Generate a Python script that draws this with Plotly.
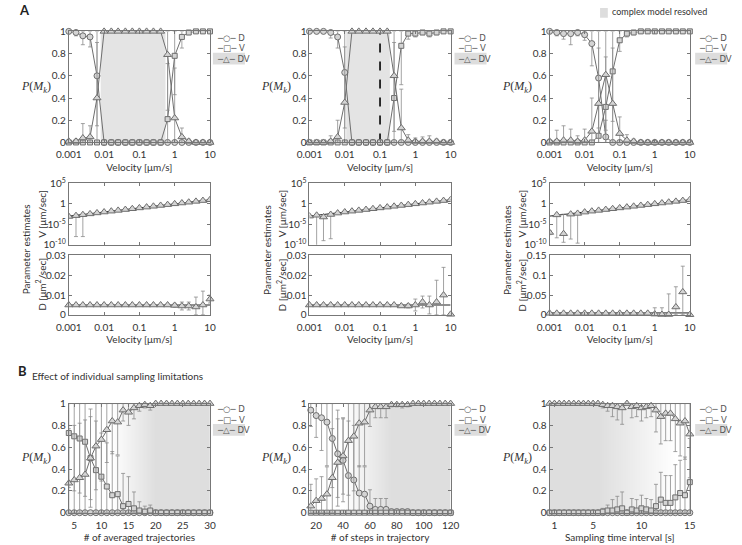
import numpy as np
import plotly.graph_objects as go

W, H = 742, 545

# ---------------- Panel A data (velocity sweep) ----------------
velocity = [0.001, 0.0016, 0.0025, 0.004, 0.0063, 0.01, 0.016, 0.025, 0.04, 0.063,
            0.1, 0.16, 0.25, 0.4, 0.63, 1.0, 1.6, 2.5, 4.0, 6.3, 10.0]
vel_ticks = [0.001, 0.01, 0.1, 1, 10]
vel_ticktext = ["0.001", "0.01", "0.1", "1", "10"]

# P(M_k) posterior probabilities
A1_D = [1, 0.99, 0.96, 0.95, 0.6, 0, 0, 0, 0, 0, 0, 0, 0, 0, 0, 0, 0, 0, 0, 0, 0]
A1_V = [0, 0, 0, 0, 0, 0, 0, 0, 0, 0, 0, 0, 0, 0, 0.21, 0.78, 0.95, 0.99, 1, 1, 1]
A1_DV = [0.01, 0.01, 0.04, 0.05, 0.4, 1, 1, 1, 1, 1, 1, 1, 1, 1, 0.79, 0.22, 0.05, 0.01, 0, 0, 0]
A1_D_sd = [0, 0.03, 0.08, 0.09, 0.45, 0, 0, 0, 0, 0, 0, 0, 0, 0, 0, 0, 0, 0, 0, 0, 0]
A1_V_sd = [0, 0, 0, 0, 0, 0, 0, 0, 0, 0, 0, 0, 0, 0, 0.5, 0.35, 0.1, 0.02, 0, 0, 0]
A1_DV_sd = [0, 0.02, 0.13, 0.1, 0.5, 0, 0, 0, 0, 0, 0, 0, 0, 0, 0.5, 0.45, 0.08, 0.02, 0, 0, 0]

A2_D = [1, 1, 1, 0.99, 0.95, 0.63, 0, 0, 0, 0, 0, 0, 0, 0, 0, 0, 0, 0, 0, 0, 0]
A2_V = [0, 0, 0, 0, 0, 0, 0, 0, 0, 0, 0, 0, 0.4, 0.87, 0.98, 0.98, 0.99, 0.98, 0.99, 1, 1]
A2_DV = [0, 0, 0, 0.01, 0.05, 0.36, 1, 1, 1, 1, 1, 1, 0.6, 0.13, 0.02, 0.01, 0.01, 0.01, 0.01, 0, 0]
A2_D_sd = [0, 0, 0, 0.05, 0.1, 0.5, 0, 0, 0, 0, 0, 0, 0, 0, 0, 0, 0, 0, 0, 0, 0]
A2_V_sd = [0, 0, 0, 0, 0, 0, 0, 0, 0, 0, 0, 0, 0.5, 0.35, 0.05, 0.03, 0.02, 0.03, 0.02, 0, 0]
A2_DV_sd = [0, 0, 0, 0.05, 0.15, 0.5, 0, 0, 0, 0, 0, 0, 0.5, 0.35, 0.05, 0.03, 0.04, 0.05, 0.02, 0, 0]

A3_D = [1, 0.99, 0.98, 0.98, 0.99, 0.97, 0.89, 0.58, 0.05, 0, 0, 0, 0, 0, 0, 0, 0, 0, 0, 0, 0]
A3_V = [0, 0, 0, 0, 0, 0, 0, 0.06, 0.32, 0.64, 0.92, 0.98, 0.99, 1, 1, 1, 1, 1, 1, 1, 1]
A3_DV = [0.01, 0.01, 0.02, 0.02, 0.01, 0.02, 0.1, 0.35, 0.61, 0.35, 0.08, 0.02, 0.01, 0, 0, 0, 0, 0, 0, 0, 0]
A3_D_sd = [0, 0.03, 0.05, 0.1, 0.03, 0.05, 0.2, 0.45, 0.15, 0, 0, 0, 0, 0, 0, 0, 0, 0, 0, 0, 0]
A3_V_sd = [0, 0, 0, 0, 0, 0, 0, 0.3, 0.45, 0.45, 0.1, 0.03, 0.02, 0, 0, 0, 0, 0, 0, 0, 0]
A3_DV_sd = [0, 0.1, 0.13, 0.1, 0.05, 0.1, 0.3, 0.5, 0.5, 0.5, 0.15, 0.05, 0.02, 0, 0, 0, 0, 0, 0, 0, 0]

# shaded "complex model resolved" velocity ranges (None = no shading)
A_shade = [(0.008, 0.55), (0.011, 0.19), None]
A2_dashed_velocity = 0.1

# Parameter estimates: V (log) and D
A1_Vest = [0.0008, 0.0013, 0.0022, 0.0035, 0.006, 0.01, 0.016, 0.025, 0.04, 0.063,
           0.1, 0.16, 0.25, 0.4, 0.63, 1.0, 1.6, 2.5, 4.0, 6.3, 10.0]
A1_Vlo = [None, 1e-8, 1e-8] + [None] * 18
A1_Vhi = [None] * 21
A2_Vest = [0.001, 0.0016, 0.0006, 0.0025, 0.0055, 0.01, 0.016, 0.025, 0.04, 0.063,
           0.1, 0.16, 0.25, 0.4, 0.63, 1.0, 1.6, 2.5, 4.0, 6.3, 10.0]
A2_Vlo = [None, 1e-11, 1e-9, 3e-9] + [None] * 17
A2_Vhi = [None] * 21
A3_Vest = [1e-7, 0.002, 5e-8, 0.003, 0.0045, 0.0095, 0.016, 0.025, 0.04, 0.063,
           0.1, 0.16, 0.25, 0.4, 0.63, 1.0, 1.6, 2.5, 4.0, 6.3, 10.0]
A3_Vlo = [3e-8, 5e-9, 4e-10, 2.5e-9, 2.5e-10] + [None] * 16
A3_Vhi = [3e-7, None, 3e-3] + [None] * 18

D_true = 0.005
A1_Dest = [0.005] * 15 + [0.0048, 0.0045, 0.0045, 0.004, 0.005, 0.008]
A1_Dsd = [0] * 14 + [0.0005, 0.001, 0.002, 0.002, 0.005, 0.007, 0.002]
A2_Dest = [0.005] * 13 + [0.0045, 0.0045, 0.005, 0.0065, 0.005, 0.0065, 0.010, 0.0003]
A2_Dsd = [0] * 13 + [0.0005, 0.001, 0.003, 0.003, 0.0045, 0.011, 0.014, 0]
A3_Dest = [0.004] * 15 + [0.002, 0.001, 0.001, 0.02, 0.058, 0.0005]
A3_Dsd = [0] * 15 + [0.016, 0.017, 0.052, 0.051, 0.065, 0]

# ---------------- Panel B data (sampling limitations) ----------------
B1_x = list(range(4, 31))
B1_D = [0] * 27
B1_V = [0.73, 0.70, 0.68, 0.65, 0.50, 0.39, 0.33, 0.24, 0.16, 0.17, 0.06, 0.08, 0.04, 0.02, 0.01, 0.02] + [0] * 11
B1_DV = [0.27, 0.30, 0.32, 0.35, 0.50, 0.61, 0.67, 0.76, 0.84, 0.83, 0.94, 0.92, 0.96, 0.98, 0.99, 0.98] + [1] * 11
B1_D_sd = [0] * 27
B1_V_sd = [0.5, 0.5, 0.5, 0.5, 0.45, 0.45, 0.4, 0.4, 0.4, 0.35, 0.3, 0.25, 0.15, 0.08, 0.05, 0.05] + [0] * 11
B1_DV_sd = [0.5, 0.5, 0.5, 0.5, 0.38, 0.4, 0.38, 0.3, 0.3, 0.3, 0.1, 0.12, 0.1, 0.05, 0.03, 0.04] + [0] * 11
B1_grad = ([4, 12, 20, 30], [0, 0, 1, 1])

B2_x = list(range(16, 121, 4))
B2_D = [0.94, 0.89, 0.87, 0.83, 0.68, 0.54, 0.48, 0.34, 0.30, 0.18, 0.17, 0.06, 0.03, 0.03,
        0.03, 0.01, 0.01, 0.01, 0.01] + [0] * 8
B2_V = [0] * 27
B2_DV = [0.06, 0.11, 0.13, 0.17, 0.32, 0.46, 0.52, 0.66, 0.70, 0.82, 0.83, 0.94, 0.97, 0.97,
         0.97, 0.99, 0.99, 0.99, 0.99] + [1] * 8
B2_D_sd = [0.15, 0.2, 0.3, 0.4, 0.45, 0.4, 0.38, 0.5, 0.5, 0.25, 0.25, 0.15, 0.1, 0.1,
           0.1, 0.02, 0.02, 0.02, 0.02] + [0] * 8
B2_V_sd = [0] * 27
B2_DV_sd = [0.2, 0.2, 0.2, 0.25, 0.45, 0.4, 0.35, 0.5, 0.5, 0.4, 0.4, 0.15, 0.1, 0.1,
            0.1, 0.02, 0.02, 0.03, 0.02] + [0] * 8
B2_grad = ([15, 40, 76, 120], [0, 0, 1, 1])

B3_x = [0.5, 1, 1.5, 2, 2.5, 3, 3.5, 4, 4.5, 5, 5.5, 6, 6.5, 7, 7.5, 8, 8.5, 9, 9.5, 10,
        10.5, 11, 11.5, 12, 12.5, 13, 13.5, 14, 14.5, 15]
B3_D = [0] * 30
B3_V = [0] * 11 + [0.01, 0.02, 0.02, 0.03, 0.04, 0.0, 0.03, 0.02, 0.04, 0.03, 0.02, 0.06,
                   0.12, 0.09, 0.09, 0.14, 0.18, 0.16, 0.28]
B3_DV = [1] * 11 + [0.99, 0.98, 0.98, 0.97, 0.96, 1.0, 0.97, 0.98, 0.96, 0.97, 0.98, 0.94,
                    0.88, 0.91, 0.91, 0.86, 0.82, 0.84, 0.72]
B3_D_sd = [0] * 30
B3_V_sd = [0] * 11 + [0.03, 0.05, 0.1, 0.12, 0.15, 0, 0.1, 0.1, 0.12, 0.1, 0.1, 0.2,
                      0.25, 0.25, 0.25, 0.3, 0.3, 0.35, 0.4]
B3_DV_sd = B3_V_sd
B3_grad = ([0.5, 5.5, 13.5, 15], [1, 1, 0, 0])

# ---------------- styling ----------------
FONT = "Lato"
TICKFONT = dict(family=FONT, size=10, color="#333333")
LINEC = "#6e6e6e"
MKFILL = "#d4d4d4"
ERRC = "#8c8c8c"
SHADE = "#e4e4e4"
SYMBOLS = {"D": ("circle", 6), "V": ("square", 5), "DV": ("triangle-up", 7)}

cols_px = [(57.5, 203), (305.5, 451), (553, 697.5)]
col_shift = [0, 248, 495.5]
rows_px = {"top": (24, 138), "V": (180, 243), "D": (254, 315), "bot": (406, 518)}


def xdom(c):
    return [c[0] / W, c[1] / W]


def ydom(r):
    return [1 - r[1] / H, 1 - r[0] / H]


def names(i):
    if i == 1:
        return "xaxis", "yaxis", "x", "y"
    return f"xaxis{i}", f"yaxis{i}", f"x{i}", f"y{i}"


axis_base = dict(showline=True, linecolor="#777777", linewidth=1, mirror="ticks",
                 ticks="inside", ticklen=3, tickwidth=1, tickcolor="#777777",
                 showgrid=False, zeroline=False, tickfont=TICKFONT)

fig = go.Figure()
layout = {}
annotations = []
shapes = []


def set_axes(i, col, row, xa, ya):
    xn, yn, xr, yr = names(i)
    xd = dict(axis_base, domain=xdom(cols_px[col]), anchor=yr, ticklabelstandoff=3)
    xd.update(xa)
    yd = dict(axis_base, domain=ydom(rows_px[row]), anchor=xr)
    yd.update(ya)
    layout[xn] = xd
    layout[yn] = yd
    return xr, yr


def p_err(y, sd):
    y = np.array(y, float)
    sd = np.array(sd, float)
    plus = np.minimum(sd, 1 - y)
    minus = np.minimum(sd, y)
    return plus.tolist(), minus.tolist()


def add_p_series(xr, yr, x, series):
    for key, y, sd in series:
        sym, size = SYMBOLS[key]
        plus, minus = p_err(y, sd)
        fig.add_trace(go.Scatter(
            x=x, y=y, xaxis=xr, yaxis=yr, mode="lines+markers", name=key,
            line=dict(color=LINEC, width=1),
            marker=dict(symbol=sym, size=size, color=MKFILL, line=dict(color=LINEC, width=1)),
            error_y=dict(type="data", symmetric=False, array=plus, arrayminus=minus,
                         color=ERRC, thickness=0.8, width=2),
            cliponaxis=False, showlegend=False, hoverinfo="skip"))


def add_legend(xpx, ypx):
    labels = [("─○─ D", 0), ("─□─ V", 10.5), ("─△─ DV", 21)]
    shapes.append(dict(type="rect", xref="paper", yref="paper", layer="below",
                       x0=(xpx - 2) / W, x1=(xpx + 31) / W,
                       y0=1 - (ypx + 21 + 6) / H, y1=1 - (ypx + 21 - 6) / H,
                       fillcolor="#dddddd", line=dict(width=0)))
    for t, dy in labels:
        annotations.append(dict(text=t, xref="paper", yref="paper", x=xpx / W, y=1 - (ypx + dy) / H,
                                xanchor="left", yanchor="middle", showarrow=False,
                                font=dict(family="DejaVu Sans", size=8.5, color="#555555")))


def pmk_label(xpx_right, ypx):
    annotations.append(dict(text="<i>P</i>(<i>M</i><sub><i>k</i></sub>)", xref="paper", yref="paper",
                            x=xpx_right / W, y=1 - ypx / H, xanchor="right", yanchor="middle",
                            showarrow=False, font=dict(family="Liberation Serif", size=12, color="#333333")))


def rot_label(text, xpx, ypx):
    annotations.append(dict(text=text, xref="paper", yref="paper", x=xpx / W, y=1 - ypx / H,
                            textangle=-90, showarrow=False, xanchor="center", yanchor="middle",
                            font=dict(family=FONT, size=10, color="#333333")))


# ---------------- top row: P(M_k) vs velocity ----------------
A_P = [
    (A1_D, A1_V, A1_DV, A1_D_sd, A1_V_sd, A1_DV_sd),
    (A2_D, A2_V, A2_DV, A2_D_sd, A2_V_sd, A2_DV_sd),
    (A3_D, A3_V, A3_DV, A3_D_sd, A3_V_sd, A3_DV_sd),
]
logx = dict(type="log", range=[-3, 1], tickvals=vel_ticks, ticktext=vel_ticktext)
py = dict(range=[0, 1], tickvals=[0, 0.2, 0.4, 0.6, 0.8, 1])
xtitle_vel = dict(text="Velocity [μm/s]", font=dict(family=FONT, size=10, color="#333333"), standoff=4)

for c in range(3):
    xr, yr = set_axes(1 + c, c, "top", dict(logx, title=xtitle_vel), py)
    if A_shade[c] is not None:
        a, b = A_shade[c]
        fig.add_trace(go.Scatter(x=[a, a, b, b, a], y=[0, 1, 1, 0, 0], xaxis=xr, yaxis=yr,
                                 mode="lines", fill="toself", fillcolor=SHADE,
                                 line=dict(width=0), showlegend=False, hoverinfo="skip"))
    if c == 1:
        fig.add_trace(go.Scatter(x=[A2_dashed_velocity, A2_dashed_velocity], y=[0, 1], xaxis=xr, yaxis=yr,
                                 mode="lines", line=dict(color="black", width=1.6, dash="dash"),
                                 showlegend=False, hoverinfo="skip"))
    D, V, DV, Dsd, Vsd, DVsd = A_P[c]
    add_p_series(xr, yr, velocity, [("D", D, Dsd), ("V", V, Vsd), ("DV", DV, DVsd)])

# ---------------- middle rows: parameter estimates ----------------
A_V = [(A1_Vest, A1_Vlo, A1_Vhi), (A2_Vest, A2_Vlo, A2_Vhi), (A3_Vest, A3_Vlo, A3_Vhi)]
A_Dest = [(A1_Dest, A1_Dsd), (A2_Dest, A2_Dsd), (A3_Dest, A3_Dsd)]
D_ranges = [([0, 0.03], [0, 0.01, 0.02, 0.03], ["0", "0.01", "0.02", "0.03"]),
            ([0, 0.03], [0, 0.01, 0.02, 0.03], ["0", "0.01", "0.02", "0.03"]),
            ([0, 0.15], [0, 0.05, 0.1, 0.15], ["0", "0.05", "0.1", "0.15"])]

for c in range(3):
    # V panel
    xr, yr = set_axes(4 + c, c, "V", dict(logx, showticklabels=False),
                      dict(type="log", range=[-10, 5], tickvals=[1e-10, 1e-5, 1, 1e5],
                           ticktext=["10<sup>-10</sup>", "10<sup>-5</sup>", "1", "10<sup>5</sup>"]))
    est, lo, hi = A_V[c]
    minus = [0 if l is None else e - l for e, l in zip(est, lo)]
    plus = [0 if h is None else h - e for e, h in zip(est, hi)]
    fig.add_trace(go.Scatter(x=velocity, y=velocity, xaxis=xr, yaxis=yr, mode="lines",
                             line=dict(color="#222222", width=1), showlegend=False, hoverinfo="skip"))
    fig.add_trace(go.Scatter(x=velocity, y=est, xaxis=xr, yaxis=yr, mode="markers",
                             marker=dict(symbol="triangle-up", size=7, color=MKFILL, line=dict(color=LINEC, width=1)),
                             error_y=dict(type="data", symmetric=False, array=plus, arrayminus=minus,
                                          color=ERRC, thickness=0.8, width=2),
                             showlegend=False, hoverinfo="skip"))
    # D panel
    rng, tv, tt = D_ranges[c]
    xr, yr = set_axes(7 + c, c, "D", dict(logx, title=xtitle_vel),
                      dict(range=rng, tickvals=tv, ticktext=tt))
    dest, dsd = A_Dest[c]
    dplus = dsd
    dminus = [min(s, e) for s, e in zip(dsd, dest)]
    fig.add_trace(go.Scatter(x=[velocity[0], velocity[-1]], y=[D_true, D_true], xaxis=xr, yaxis=yr,
                             mode="lines", line=dict(color="#222222", width=1),
                             showlegend=False, hoverinfo="skip"))
    fig.add_trace(go.Scatter(x=velocity, y=dest, xaxis=xr, yaxis=yr, mode="markers",
                             marker=dict(symbol="triangle-up", size=7, color=MKFILL, line=dict(color=LINEC, width=1)),
                             error_y=dict(type="data", symmetric=False, array=dplus, arrayminus=dminus,
                                          color=ERRC, thickness=0.8, width=2),
                             cliponaxis=False, showlegend=False, hoverinfo="skip"))
    s = col_shift[c]
    rot_label("Parameter estimates", 13 + s, 248)
    rot_label("V [μm/sec]", 29 + s, 211)
    rot_label("D [μm<sup>2</sup>/sec]", 29 + s, 284)

# ---------------- bottom row: sampling limitations ----------------
B_sets = [
    (B1_x, B1_D, B1_V, B1_DV, B1_D_sd, B1_V_sd, B1_DV_sd, B1_grad, [4, 30], [5, 10, 15, 20, 25, 30],
     "# of averaged trajectories"),
    (B2_x, B2_D, B2_V, B2_DV, B2_D_sd, B2_V_sd, B2_DV_sd, B2_grad, [15, 120], [20, 40, 60, 80, 100, 120],
     "# of steps in trajectory"),
    (B3_x, B3_D, B3_V, B3_DV, B3_D_sd, B3_V_sd, B3_DV_sd, B3_grad, [0.5, 15], [1, 5, 10, 15],
     "Sampling time interval [s]"),
]
for c in range(3):
    x, D, V, DV, Dsd, Vsd, DVsd, grad, xrng, xt, xtitle = B_sets[c]
    xr, yr = set_axes(10 + c, c, "bot",
                      dict(range=xrng, tickvals=xt,
                           title=dict(text=xtitle, font=dict(family=FONT, size=10, color="#333333"), standoff=4)),
                      py)
    gx, gz = grad
    fig.add_trace(go.Heatmap(x=gx, y=[0, 1], z=[gz, gz], xaxis=xr, yaxis=yr, zsmooth="best",
                             colorscale=[[0, "#ffffff"], [1, "#dedede"]], zmin=0, zmax=1,
                             showscale=False, hoverinfo="skip"))
    add_p_series(xr, yr, x, [("D", D, Dsd), ("V", V, Vsd), ("DV", DV, DVsd)])

# ---------------- legends and labels ----------------
for xpx in [208, 457, 705]:
    add_legend(xpx, 31)
    add_legend(xpx, 412)
for s in col_shift:
    pmk_label(41 + s, 81)
    pmk_label(41 + s, 462)

annotations.append(dict(text="<b>A</b>", xref="paper", yref="paper", x=4 / W, y=1 - 2 / H,
                        xanchor="left", yanchor="middle", showarrow=False,
                        font=dict(family=FONT, size=13, color="#222222")))
annotations.append(dict(text="<b>B</b>", xref="paper", yref="paper", x=3 / W, y=1 - 373 / H,
                        xanchor="left", yanchor="middle", showarrow=False,
                        font=dict(family=FONT, size=13, color="#222222")))
annotations.append(dict(text="Effect of individual sampling limitations", xref="paper", yref="paper",
                        x=18 / W, y=1 - 378 / H, xanchor="left", yanchor="middle", showarrow=False,
                        font=dict(family=FONT, size=10, color="#333333")))
shapes.append(dict(type="rect", xref="paper", yref="paper", x0=605 / W, x1=613 / W,
                   y0=1 - 10 / H, y1=1.0, fillcolor="#dddddd", line=dict(width=0)))
annotations.append(dict(text="complex model resolved", xref="paper", yref="paper",
                        x=615 / W, y=1 - 4 / H, xanchor="left", yanchor="middle", showarrow=False,
                        font=dict(family=FONT, size=9, color="#333333")))

fig.update_layout(width=W, height=H, margin=dict(l=0, r=0, t=0, b=0),
                  paper_bgcolor="white", plot_bgcolor="white", showlegend=False,
                  annotations=annotations, shapes=shapes, **layout)
fig.write_html("out.html")
